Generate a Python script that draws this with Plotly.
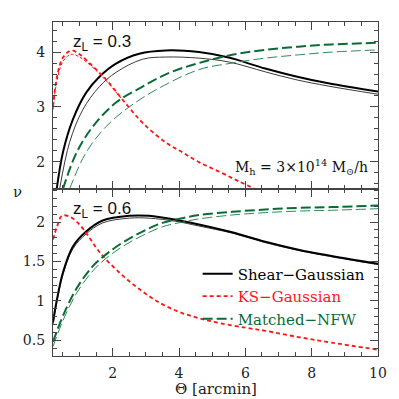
import plotly.graph_objects as go
from plotly.subplots import make_subplots

# ---- z_L = 0.3 (top panel) ----
top_shear_x = [0.3, 0.5, 0.8, 1.2, 1.6, 2.1, 2.8, 3.6, 4.6, 5.5, 6.6, 7.5, 8.5, 10]
top_shear_y = [1.45, 2.17, 2.77, 3.26, 3.55, 3.79, 3.97, 4.03, 4.0, 3.9, 3.7, 3.56, 3.43, 3.28]
top_shear2_x = [0.4, 0.7, 1.1, 1.6, 2.1, 2.9, 3.6, 4.6, 5.5, 6.6, 7.5, 8.5, 10]
top_shear2_y = [1.5, 2.35, 2.95, 3.37, 3.63, 3.87, 3.91, 3.89, 3.82, 3.64, 3.5, 3.38, 3.23]
top_ks_x = [0.2, 0.32, 0.5, 0.75, 1.0, 1.4, 1.8, 2.3, 2.9, 3.6, 4.1, 4.6, 5.2, 5.8, 6.3]
top_ks_y = [3.0, 3.55, 3.9, 4.03, 3.96, 3.74, 3.5, 3.13, 2.71, 2.35, 2.17, 1.99, 1.82, 1.64, 1.5]
top_ks2_x = [0.2, 0.32, 0.5, 0.75, 1.0, 1.4, 1.8, 2.3]
top_ks2_y = [2.95, 3.48, 3.83, 3.96, 3.91, 3.72, 3.48, 3.12]
top_nfw_x = [0.5, 0.9, 1.4, 2.1, 2.9, 3.7, 4.6, 5.6, 6.6, 7.6, 8.6, 10]
top_nfw_y = [1.5, 2.15, 2.64, 3.08, 3.37, 3.62, 3.8, 3.95, 4.04, 4.1, 4.14, 4.17]
top_nfw2_x = [0.7, 1.2, 1.8, 2.5, 3.3, 4.6, 5.6, 6.6, 7.6, 8.6, 10]
top_nfw2_y = [1.5, 2.17, 2.64, 3.0, 3.31, 3.68, 3.8, 3.89, 3.95, 4.0, 4.04]

# ---- z_L = 0.6 (bottom panel) ----
bot_shear_x = [0.2, 0.32, 0.5, 0.8, 1.2, 1.7, 2.5, 3.1, 3.9, 4.6, 5.6, 6.6, 7.6, 8.6, 10]
bot_shear_y = [0.73, 1.02, 1.36, 1.69, 1.88, 2.02, 2.08, 2.08, 2.03, 1.97, 1.87, 1.75, 1.65, 1.57, 1.47]
bot_shear2_y = [0.7, 0.99, 1.33, 1.66, 1.85, 1.99, 2.05, 2.05, 2.01, 1.95, 1.86, 1.74, 1.64, 1.56, 1.46]
bot_ks_x = [0.2, 0.32, 0.47, 0.7, 1.0, 1.3, 1.6, 2.2, 2.8, 3.4, 4.0, 4.6, 5.2, 6.0, 6.6, 7.6, 8.6, 10]
bot_ks_y = [1.78, 1.94, 2.08, 2.07, 1.97, 1.8, 1.62, 1.36, 1.15, 0.98, 0.86, 0.78, 0.72, 0.66, 0.62, 0.54, 0.47, 0.38]
bot_nfw_x = [0.2, 0.5, 0.9, 1.4, 1.8, 2.3, 2.9, 3.5, 4.1, 4.6, 5.6, 6.6, 7.6, 8.6, 10]
bot_nfw_y = [0.48, 0.81, 1.15, 1.44, 1.59, 1.74, 1.88, 1.99, 2.05, 2.09, 2.13, 2.16, 2.18, 2.19, 2.21]
bot_nfw2_y = [0.42, 0.75, 1.09, 1.38, 1.54, 1.69, 1.83, 1.94, 2.0, 2.04, 2.09, 2.12, 2.14, 2.15, 2.17]

BLACK = "#000000"
GREY = "#3a3a3a"
RED = "#ff1414"
GREEN = "#0b6b36"
GREEN2 = "#2f8a55"

fig = make_subplots(rows=2, cols=1, shared_xaxes=True, vertical_spacing=0)

def add(x, y, color, width, dash, row, name=None):
    fig.add_trace(go.Scatter(x=x, y=y, mode="lines", line=dict(color=color, width=width, dash=dash, shape="spline"),
                             name=name, showlegend=name is not None), row=row, col=1)

add(top_shear2_x, top_shear2_y, GREY, 1, "solid", 1)
add(top_shear_x, top_shear_y, BLACK, 2, "solid", 1)
add(top_ks2_x, top_ks2_y, RED, 1, "3px,2px", 1)
add(top_ks_x, top_ks_y, RED, 1.8, "4px,3px", 1)
add(top_nfw2_x, top_nfw2_y, GREEN2, 1, "10px,4px", 1)
add(top_nfw_x, top_nfw_y, GREEN, 2, "10px,4px", 1)

add(bot_shear_x, bot_shear2_y, GREY, 1, "solid", 2)
add(bot_shear_x, bot_shear_y, BLACK, 2, "solid", 2, "<span style='color:#000'>Shear\u2212Gaussian</span>")
add(bot_ks_x, bot_ks_y, RED, 1.8, "4px,3px", 2, "<span style='color:#ff1414'>KS\u2212Gaussian</span>")
add(bot_nfw_x, bot_nfw2_y, GREEN2, 1, "10px,4px", 2)
add(bot_nfw_x, bot_nfw_y, GREEN, 2, "10px,4px", 2, "<span style='color:#0b6b36'>Matched\u2212NFW</span>")

axis_common = dict(showline=True, linecolor="#444", linewidth=1.3, mirror="allticks", ticks="inside",
                   ticklen=8, tickwidth=1, tickcolor="#444", showgrid=False, zeroline=False,
                   ticklabelstandoff=4, tickfont=dict(family="DejaVu Serif", size=14, color="#222"))

fig.update_xaxes(range=[0.2, 10], tickvals=[2, 4, 6, 8, 10],
                 minor=dict(ticks="inside", dtick=0.5, tick0=0, ticklen=4, tickcolor="#444"), **axis_common)
fig.update_yaxes(range=[1.5, 4.55], tickvals=[2, 3, 4],
                 minor=dict(ticks="inside", dtick=0.2, tick0=0, ticklen=4, tickcolor="#444"), row=1, col=1, **axis_common)
fig.update_yaxes(range=[0.3, 2.42], tickvals=[0.5, 1, 1.5, 2], ticktext=["0.5", "1", "1.5", "2"],
                 minor=dict(ticks="inside", dtick=0.1, tick0=0, ticklen=4, tickcolor="#444"), row=2, col=1, **axis_common)

fig.add_annotation(x=0.055, y=0.975, xref="paper", yref="paper", xanchor="left", yanchor="top", showarrow=False,
                   text="z<sub>L</sub> = 0.3", font=dict(family="Liberation Sans", size=17, color="#111"))
fig.add_annotation(x=0.055, y=0.475, xref="paper", yref="paper", xanchor="left", yanchor="top", showarrow=False,
                   text="z<sub>L</sub> = 0.6", font=dict(family="Liberation Sans", size=17, color="#111"))
fig.add_annotation(x=0.975, y=0.53, xref="paper", yref="paper", xanchor="right", yanchor="bottom", showarrow=False,
                   text="M<sub>h</sub> = 3\u00d710<sup>14</sup> M<sub>\u2299</sub>/h",
                   font=dict(family="DejaVu Serif", size=14, color="#111"))
fig.add_annotation(x=-0.13, y=0.49, xref="paper", yref="paper", showarrow=False, text="\u03bd",
                   font=dict(family="DejaVu Serif", size=15, color="#222"))
fig.add_annotation(x=0.5, y=-0.099, xref="paper", yref="paper", yanchor="middle", showarrow=False,
                   text="\u0398 [arcmin]", font=dict(family="DejaVu Serif", size=15, color="#222"))

fig.update_layout(
    width=399, height=399,
    margin=dict(l=53, r=21, t=22, b=43),
    plot_bgcolor="white", paper_bgcolor="white",
    legend=dict(x=0.445, y=0.295, xanchor="left", yanchor="top", bgcolor="rgba(0,0,0,0)",
                font=dict(family="DejaVu Serif", size=15), itemwidth=30, tracegroupgap=0),
)

# drop the default 8px page margin so the figure fills the window
fig.write_html("out.html", config={"displayModeBar": False}, post_script="document.body.style.margin='0';")
